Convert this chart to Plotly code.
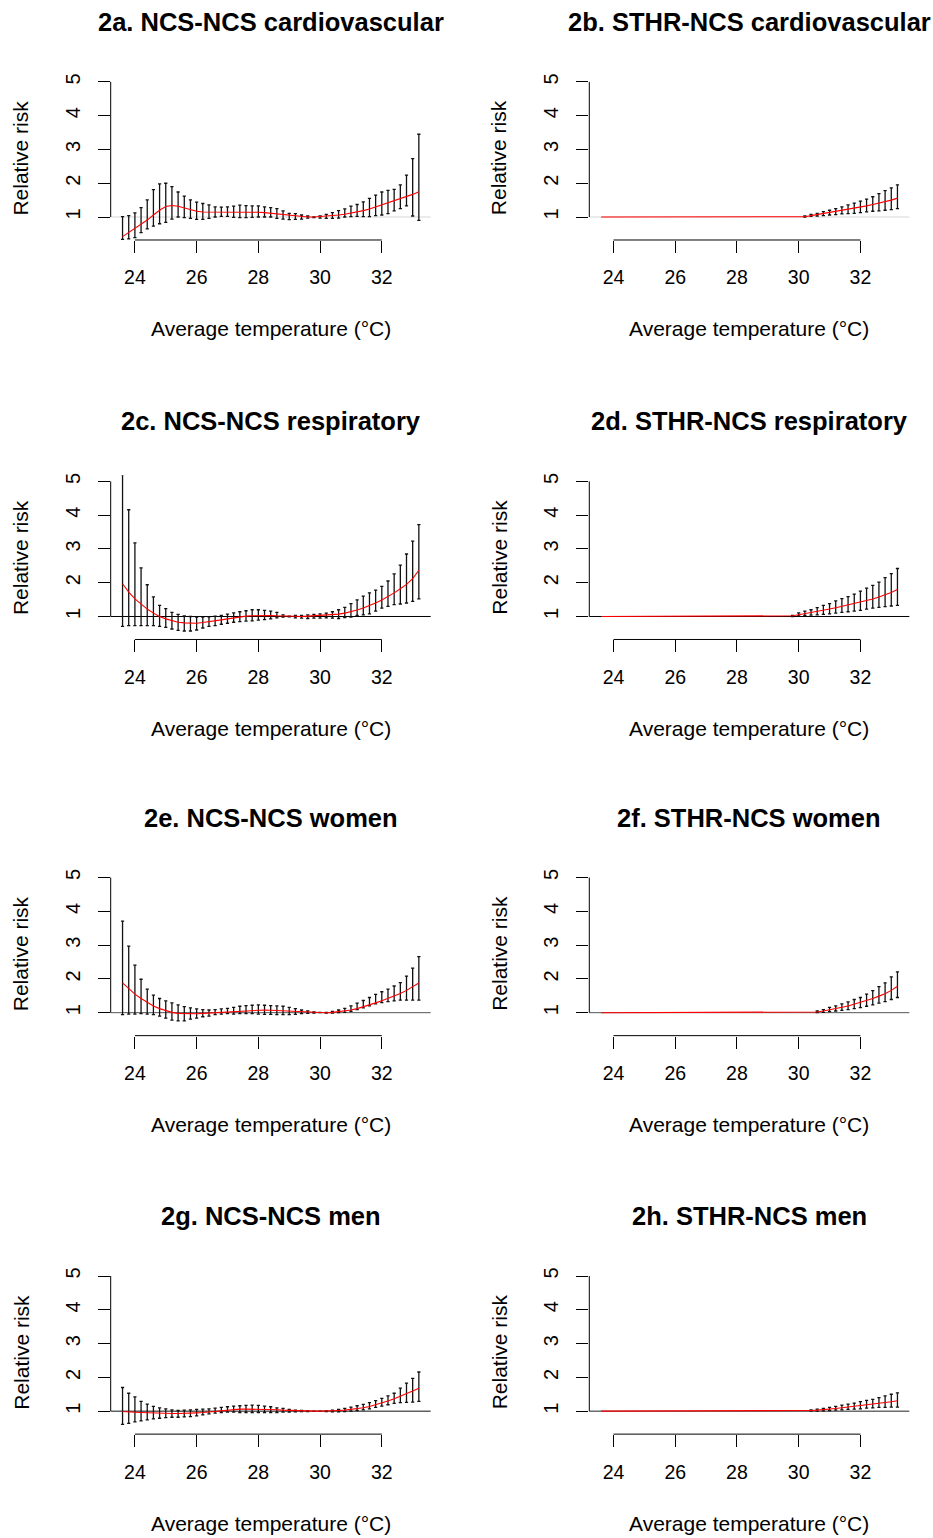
import plotly.graph_objects as go

# ---------------- data ----------------
temps = [23.6, 23.8, 24.0, 24.2, 24.4, 24.6, 24.8, 25.0, 25.2, 25.4,
         25.6, 25.8, 26.0, 26.2, 26.4, 26.6, 26.8, 27.0, 27.2, 27.4,
         27.6, 27.8, 28.0, 28.2, 28.4, 28.6, 28.8, 29.0, 29.2, 29.4,
         29.6, 29.8, 30.0, 30.2, 30.4, 30.6, 30.8, 31.0, 31.2, 31.4,
         31.6, 31.8, 32.0, 32.2, 32.4, 32.6, 32.8, 33.0, 33.2]

x_ticks = [24, 26, 28, 30, 32]
y_ticks = [1, 2, 3, 4, 5]

titles = ["2a. NCS-NCS cardiovascular", "2b. STHR-NCS cardiovascular",
          "2c. NCS-NCS respiratory", "2d. STHR-NCS respiratory",
          "2e. NCS-NCS women", "2f. STHR-NCS women",
          "2g. NCS-NCS men", "2h. STHR-NCS men"]

# 2a
rr_a = [0.42, 0.54, 0.67, 0.79, 0.91, 1.06, 1.20, 1.31, 1.34, 1.32,
        1.27, 1.21, 1.17, 1.15, 1.15, 1.15, 1.15, 1.16, 1.16, 1.16,
        1.16, 1.15, 1.14, 1.13, 1.11, 1.09, 1.06, 1.04, 1.02, 1.01,
        1.00, 1.00, 1.01, 1.02, 1.04, 1.06, 1.08, 1.11, 1.15, 1.19,
        1.24, 1.30, 1.36, 1.42, 1.48, 1.54, 1.60, 1.67, 1.75]
lo_a = [0.34, 0.35, 0.39, 0.54, 0.65, 0.73, 0.80, 0.84, 0.94, 1.00,
        0.98, 0.96, 0.93, 0.93, 0.96, 1.00, 1.02, 1.02, 0.99, 0.98,
        0.98, 0.99, 1.00, 1.00, 1.00, 0.96, 0.94, 0.92, 0.93, 0.94,
        0.97, 0.98, 0.97, 0.96, 0.96, 0.97, 1.00, 1.01, 1.02, 1.01,
        1.01, 1.04, 1.06, 1.10, 1.18, 1.25, 1.33, 1.03, 0.90]
hi_a = [1.01, 1.04, 1.12, 1.28, 1.51, 1.81, 1.98, 2.00, 1.90, 1.74,
        1.62, 1.51, 1.44, 1.40, 1.36, 1.30, 1.29, 1.30, 1.32, 1.35,
        1.34, 1.33, 1.33, 1.30, 1.28, 1.25, 1.18, 1.11, 1.10, 1.06,
        1.03, 1.00, 1.03, 1.08, 1.13, 1.19, 1.24, 1.32, 1.37, 1.45,
        1.55, 1.65, 1.74, 1.79, 1.82, 1.95, 2.24, 2.73, 3.45]

# 2b
rr_b = [1.00, 1.00, 1.00, 1.00, 1.00, 1.00, 1.00, 1.00, 1.00, 1.00,
        1.00, 1.00, 1.00, 1.00, 1.00, 1.00, 1.00, 1.00, 1.00, 1.00,
        1.00, 1.00, 1.00, 1.00, 1.00, 1.00, 1.00, 1.00, 1.00, 1.00,
        1.00, 1.00, 1.00, 1.01, 1.04, 1.07, 1.10, 1.13, 1.16, 1.19,
        1.22, 1.26, 1.29, 1.33, 1.37, 1.41, 1.45, 1.50, 1.56]
lo_b = [None, None, None, None, None, None, None, None, None, None,
        None, None, None, None, None, None, None, None, None, None,
        None, None, None, None, None, None, None, None, None, None,
        None, None, None, 1.00, 1.02, 1.03, 1.04, 1.06, 1.07, 1.09,
        1.10, 1.11, 1.13, 1.15, 1.17, 1.18, 1.20, 1.22, 1.25]
hi_b = [None, None, None, None, None, None, None, None, None, None,
        None, None, None, None, None, None, None, None, None, None,
        None, None, None, None, None, None, None, None, None, None,
        None, None, None, 1.03, 1.08, 1.11, 1.16, 1.20, 1.25, 1.30,
        1.36, 1.41, 1.47, 1.53, 1.60, 1.69, 1.78, 1.86, 1.95]

# 2c
rr_c = [1.97, 1.72, 1.52, 1.36, 1.22, 1.10, 1.00, 0.93, 0.87, 0.83,
        0.81, 0.80, 0.80, 0.82, 0.84, 0.87, 0.90, 0.93, 0.96, 0.98,
        1.01, 1.02, 1.03, 1.03, 1.03, 1.02, 1.01, 1.00, 1.00, 1.00,
        1.01, 1.02, 1.02, 1.03, 1.05, 1.07, 1.10, 1.14, 1.19, 1.25,
        1.32, 1.40, 1.49, 1.59, 1.70, 1.82, 1.95, 2.12, 2.37]
lo_c = [0.71, 0.73, 0.73, 0.73, 0.73, 0.73, 0.71, 0.68, 0.63, 0.59,
        0.57, 0.57, 0.60, 0.66, 0.71, 0.73, 0.77, 0.80, 0.83, 0.85,
        0.86, 0.87, 0.89, 0.91, 0.93, 0.96, 0.98, 0.99, 0.96, 0.95,
        0.94, 0.95, 0.95, 0.96, 0.95, 0.94, 0.97, 0.98, 1.03, 1.05,
        1.08, 1.16, 1.25, 1.30, 1.35, 1.37, 1.40, 1.45, 1.52]
hi_c = [5.20, 4.16, 3.18, 2.44, 1.94, 1.58, 1.33, 1.23, 1.12, 1.06,
        1.02, 1.00, 0.98, 0.98, 0.99, 1.01, 1.03, 1.07, 1.11, 1.14,
        1.17, 1.20, 1.20, 1.18, 1.16, 1.12, 1.05, 1.01, 1.03, 1.03,
        1.05, 1.06, 1.08, 1.10, 1.14, 1.20, 1.27, 1.38, 1.49, 1.60,
        1.70, 1.78, 1.89, 2.05, 2.26, 2.52, 2.85, 3.23, 3.72]

# 2d
rr_d = [1.00, 1.00, 1.00, 1.00, 1.00, 1.00, 1.00, 1.00, 1.00, 1.00,
        1.00, 1.00, 1.00, 1.00, 1.00, 1.00, 1.00, 1.00, 1.00, 1.00,
        1.00, 1.00, 1.00, 1.00, 1.00, 1.00, 1.00, 1.00, 1.00, 1.00,
        1.01, 1.02, 1.05, 1.08, 1.11, 1.15, 1.18, 1.22, 1.26, 1.30,
        1.34, 1.38, 1.42, 1.47, 1.52, 1.58, 1.64, 1.71, 1.80]
lo_d = [None, None, None, None, None, None, None, None, None, None,
        None, None, None, None, None, None, None, None, None, None,
        None, None, None, None, None, None, None, None, None, None,
        None, 1.00, 1.02, 1.03, 1.04, 1.05, 1.06, 1.08, 1.10, 1.12,
        1.14, 1.16, 1.18, 1.22, 1.25, 1.27, 1.29, 1.31, 1.33]
hi_d = [None, None, None, None, None, None, None, None, None, None,
        None, None, None, None, None, None, None, None, None, None,
        None, None, None, None, None, None, None, None, None, None,
        None, 1.03, 1.11, 1.16, 1.20, 1.26, 1.33, 1.38, 1.46, 1.53,
        1.59, 1.66, 1.75, 1.84, 1.92, 2.02, 2.15, 2.27, 2.42]

# 2e
rr_e = [1.88, 1.70, 1.55, 1.42, 1.30, 1.20, 1.12, 1.06, 1.01, 0.98,
        0.97, 0.97, 0.97, 0.98, 0.99, 1.00, 1.01, 1.03, 1.05, 1.06,
        1.07, 1.08, 1.08, 1.08, 1.07, 1.06, 1.05, 1.04, 1.03, 1.02,
        1.01, 1.00, 1.00, 1.00, 1.01, 1.03, 1.05, 1.08, 1.12, 1.17,
        1.23, 1.29, 1.35, 1.42, 1.49, 1.57, 1.66, 1.76, 1.88]
lo_e = [0.94, 0.96, 0.96, 0.97, 0.96, 0.94, 0.90, 0.84, 0.78, 0.76,
        0.76, 0.81, 0.84, 0.88, 0.90, 0.94, 0.96, 0.97, 0.96, 0.97,
        0.97, 0.97, 0.96, 0.95, 0.95, 0.94, 0.94, 0.94, 0.95, 0.97,
        0.98, 0.99, 1.00, 0.99, 0.99, 1.00, 1.01, 1.04, 1.09, 1.14,
        1.20, 1.26, 1.30, 1.33, 1.35, 1.37, 1.37, 1.37, 1.37]
hi_e = [3.71, 2.97, 2.41, 1.99, 1.70, 1.52, 1.42, 1.35, 1.29, 1.23,
        1.18, 1.14, 1.11, 1.09, 1.08, 1.09, 1.11, 1.13, 1.16, 1.19,
        1.21, 1.22, 1.23, 1.22, 1.21, 1.20, 1.19, 1.16, 1.12, 1.08,
        1.05, 1.02, 1.01, 1.01, 1.04, 1.08, 1.13, 1.20, 1.28, 1.36,
        1.45, 1.54, 1.62, 1.70, 1.79, 1.89, 2.08, 2.32, 2.66]

# 2f
rr_f = [1.00, 1.00, 1.00, 1.00, 1.00, 1.00, 1.00, 1.00, 1.00, 1.00,
        1.00, 1.00, 1.00, 1.00, 1.00, 1.00, 1.00, 1.00, 1.00, 1.00,
        1.00, 1.00, 1.00, 1.00, 1.00, 1.00, 1.00, 1.00, 1.00, 1.00,
        1.00, 1.00, 1.00, 1.00, 1.00, 1.02, 1.05, 1.08, 1.12, 1.16,
        1.20, 1.25, 1.30, 1.36, 1.42, 1.49, 1.56, 1.66, 1.78]
lo_f = [None, None, None, None, None, None, None, None, None, None,
        None, None, None, None, None, None, None, None, None, None,
        None, None, None, None, None, None, None, None, None, None,
        None, None, None, None, None, 1.00, 1.01, 1.03, 1.05, 1.07,
        1.09, 1.12, 1.15, 1.19, 1.23, 1.28, 1.33, 1.39, 1.45]
hi_f = [None, None, None, None, None, None, None, None, None, None,
        None, None, None, None, None, None, None, None, None, None,
        None, None, None, None, None, None, None, None, None, None,
        None, None, None, None, None, 1.05, 1.09, 1.16, 1.20, 1.26,
        1.32, 1.39, 1.45, 1.55, 1.65, 1.77, 1.88, 2.06, 2.21]

# 2g
rr_g = [0.99, 0.99, 0.97, 0.96, 0.95, 0.94, 0.93, 0.93, 0.93, 0.93,
        0.93, 0.94, 0.95, 0.96, 0.98, 1.00, 1.02, 1.03, 1.05, 1.06,
        1.06, 1.06, 1.06, 1.06, 1.05, 1.04, 1.03, 1.02, 1.01, 1.00,
        1.00, 1.00, 1.00, 1.00, 1.01, 1.02, 1.03, 1.05, 1.07, 1.10,
        1.14, 1.19, 1.24, 1.30, 1.37, 1.44, 1.52, 1.60, 1.68]
lo_g = [0.61, 0.64, 0.68, 0.71, 0.74, 0.77, 0.79, 0.81, 0.82, 0.82,
        0.83, 0.84, 0.86, 0.89, 0.92, 0.94, 0.96, 0.97, 0.97, 0.96,
        0.96, 0.96, 0.96, 0.96, 0.96, 0.96, 0.97, 0.97, 0.98, 0.99,
        0.99, 1.00, 1.00, 0.99, 0.98, 0.98, 0.99, 1.00, 1.02, 1.04,
        1.07, 1.11, 1.15, 1.19, 1.23, 1.25, 1.26, 1.27, 1.29]
hi_g = [1.70, 1.53, 1.42, 1.29, 1.21, 1.14, 1.10, 1.07, 1.04, 1.02,
        1.03, 1.04, 1.05, 1.06, 1.07, 1.09, 1.11, 1.13, 1.15, 1.16,
        1.17, 1.18, 1.17, 1.15, 1.13, 1.10, 1.08, 1.05, 1.03, 1.02,
        1.01, 1.00, 1.00, 1.01, 1.03, 1.05, 1.08, 1.12, 1.16, 1.20,
        1.25, 1.31, 1.38, 1.45, 1.53, 1.68, 1.83, 1.97, 2.16]

# 2h
rr_h = [1.00, 1.00, 1.00, 1.00, 1.00, 1.00, 1.00, 1.00, 1.00, 1.00,
        1.00, 1.00, 1.00, 1.00, 1.00, 1.00, 1.00, 1.00, 1.00, 1.00,
        1.00, 1.00, 1.00, 1.00, 1.00, 1.00, 1.00, 1.00, 1.00, 1.00,
        1.00, 1.00, 1.00, 1.00, 1.02, 1.03, 1.04, 1.06, 1.08, 1.10,
        1.12, 1.14, 1.16, 1.18, 1.21, 1.23, 1.26, 1.28, 1.31]
lo_h = [None, None, None, None, None, None, None, None, None, None,
        None, None, None, None, None, None, None, None, None, None,
        None, None, None, None, None, None, None, None, None, None,
        None, None, None, None, 1.00, 1.00, 1.01, 1.02, 1.03, 1.04,
        1.05, 1.06, 1.07, 1.09, 1.10, 1.11, 1.11, 1.12, 1.12]
hi_h = [None, None, None, None, None, None, None, None, None, None,
        None, None, None, None, None, None, None, None, None, None,
        None, None, None, None, None, None, None, None, None, None,
        None, None, None, None, 1.04, 1.06, 1.08, 1.11, 1.14, 1.18,
        1.21, 1.24, 1.28, 1.32, 1.35, 1.40, 1.45, 1.50, 1.54]

# ---------------- styling / layout ----------------
FONT = "Liberation Sans, Arial, Helvetica, sans-serif"
W, H = 933, 1538
col_left = [110.7, 589.3]
plot_w = 320.0
row_top = [73.9, 473.9, 870.6, 1269.6]
plot_h = 164.4
x_range = [23.216, 33.584]
y_range = [0.32, 5.18]

panels = [
    (rr_a, lo_a, hi_a, "#d6d6d6"),
    (rr_b, lo_b, hi_b, "#d6d6d6"),
    (rr_c, lo_c, hi_c, "#000000"),
    (rr_d, lo_d, hi_d, "#000000"),
    (rr_e, lo_e, hi_e, "#555555"),
    (rr_f, lo_f, hi_f, "#555555"),
    (rr_g, lo_g, hi_g, "#111111"),
    (rr_h, lo_h, hi_h, "#222222"),
]

fig = go.Figure()
shapes = []
annotations = []
layout_axes = {}

for k, (rr, lo, hi, refcol) in enumerate(panels):
    r, c = divmod(k, 2)
    n = k + 1
    sfx = "" if n == 1 else str(n)
    xa, ya = "x" + sfx, "y" + sfx
    left = col_left[c]
    top = row_top[r]
    bottom = top + plot_h

    layout_axes["xaxis" + sfx] = dict(
        domain=[left / W, (left + plot_w) / W], anchor=ya,
        range=x_range, tickmode="array", tickvals=x_ticks,
        ticktext=[str(v) for v in x_ticks],
        ticks="outside", ticklen=12, tickwidth=1, tickcolor="#000",
        showline=False, showgrid=False, zeroline=False,
        tickfont=dict(family=FONT, size=19.5, color="#000"),
        ticklabelstandoff=8, fixedrange=True)
    layout_axes["yaxis" + sfx] = dict(
        domain=[1 - bottom / H, 1 - top / H], anchor=xa,
        range=y_range, tickmode="array", tickvals=y_ticks,
        ticktext=[str(v) for v in y_ticks], tickangle=-90,
        ticks="outside", ticklen=12, tickwidth=1, tickcolor="#000",
        showline=False, showgrid=False, zeroline=False,
        tickfont=dict(family=FONT, size=20, color="#000"),
        ticklabelstandoff=10, fixedrange=True)

    # reference line RR = 1 across the plot region
    shapes.append(dict(type="line", xref=xa + " domain", x0=0, x1=1,
                       yref=ya, y0=1, y1=1, layer="below",
                       line=dict(color=refcol, width=1)))
    # R-style axis lines spanning first to last tick
    shapes.append(dict(type="line", xref=xa, x0=x_ticks[0], x1=x_ticks[-1],
                       yref=ya + " domain", y0=0, y1=0,
                       line=dict(color="#000", width=1)))
    shapes.append(dict(type="line", xref=xa + " domain", x0=0, x1=0,
                       yref=ya, y0=y_ticks[0], y1=y_ticks[-1],
                       line=dict(color="#000", width=1)))

    # confidence interval bars
    ci_x, ci_y, up, down = [], [], [], []
    for t, v, l, h in zip(temps, rr, lo, hi):
        if l is None or h is None:
            continue
        ci_x.append(t)
        ci_y.append(v)
        up.append(h - v)
        down.append(v - l)
    fig.add_trace(go.Scatter(
        x=ci_x, y=ci_y, xaxis=xa, yaxis=ya, mode="markers",
        marker=dict(size=1, color="rgba(0,0,0,0)"),
        error_y=dict(type="data", symmetric=False, array=up, arrayminus=down,
                     color="#111111", thickness=1.3, width=1.6),
        showlegend=False, hoverinfo="skip"))
    # relative risk curve
    fig.add_trace(go.Scatter(
        x=temps, y=rr, xaxis=xa, yaxis=ya, mode="lines",
        line=dict(color="#ff0000", width=1.1),
        showlegend=False, hoverinfo="skip"))

    cx = left + plot_w / 2
    # panel title
    annotations.append(dict(
        text="<b>" + titles[k] + "</b>", xref="paper", yref="paper",
        x=cx / W, y=1 - (top - 54) / H, xanchor="center", yanchor="middle",
        showarrow=False, font=dict(family=FONT, size=25.5, color="#000")))
    # x-axis title
    annotations.append(dict(
        text="Average temperature (°C)", xref="paper", yref="paper",
        x=cx / W, y=1 - (bottom + 89) / H, xanchor="center", yanchor="middle",
        showarrow=False, font=dict(family=FONT, size=21, color="#000")))
    # y-axis title
    annotations.append(dict(
        text="Relative risk", xref="paper", yref="paper",
        x=(left - 90) / W, y=1 - (top + plot_h / 2) / H,
        xanchor="center", yanchor="middle", textangle=-90,
        showarrow=False, font=dict(family=FONT, size=21, color="#000")))

fig.update_layout(
    width=W, height=H, margin=dict(l=0, r=0, t=0, b=0),
    paper_bgcolor="#ffffff", plot_bgcolor="#ffffff",
    showlegend=False, shapes=shapes, annotations=annotations,
    **layout_axes)

fig.write_html("out.html",
               config={"displayModeBar": False, "staticPlot": True},
               post_script="document.body.style.margin='0px';"
                           "document.body.style.padding='0px';")
